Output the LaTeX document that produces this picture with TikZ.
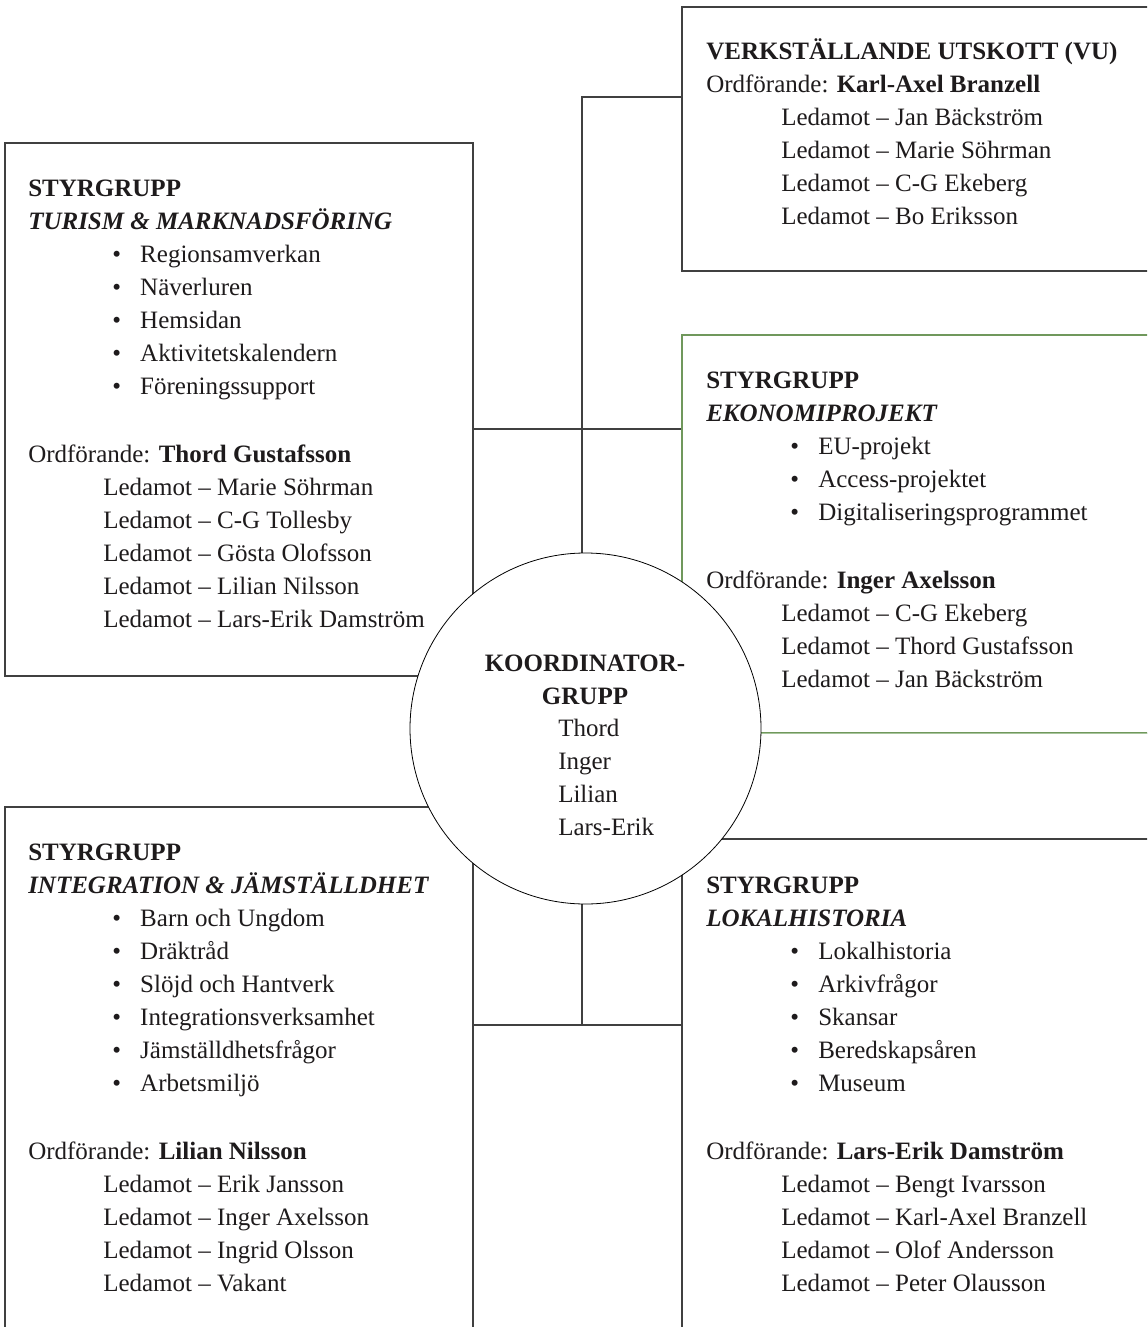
\documentclass[tikz,border=0pt]{standalone}
\usepackage{fontspec}
\setmainfont{Liberation Serif}
\usetikzlibrary{fit}
\definecolor{ecoG}{RGB}{112,152,92}
\definecolor{ecoGl}{RGB}{168,196,156}
\definecolor{ink}{RGB}{30,27,28}
\newcommand\bul[1]{\hspace*{63pt}\makebox[21pt][l]{•}#1}
\newcommand\led[1]{\hspace*{56.25pt}Ledamot – #1}
\newcommand\ordf[1]{Ordförande: \textbf{#1}}
\newcommand\gap{\\[26.25pt]}
\newcommand\blk[1]{\parbox[t]{420pt}{\fontsize{18.75pt}{24.75pt}\selectfont #1}}
\begin{document}
\begin{tikzpicture}[x=0.75pt,y=-0.75pt,
  boxst/.style={draw=black!75, line width=0.8pt, inner sep=0pt},
  conn/.style={draw=black!75, line width=0.8pt},
  txt/.style={inner sep=0pt, anchor=base west, text=ink}]
\useasboundingbox (0,0) rectangle (1147,1327);
\fill[white] (0,0) rectangle (1147,1327);
\clip (0,0) rectangle (1147,1327);
% boxes
\node[boxst, fit={(5,143) (473,676)}] (tl) {};
\node[boxst, fit={(682,7) (1170,271)}] (vu) {};
\node[boxst, draw=ecoG, fit={(682,335) (1170,733)}] (eko) {};
\draw[ecoGl, line width=1.4pt] (eko.south west) -- (eko.south east);
\node[boxst, fit={(682,839) (1170,1350)}] (lok) {};
\node[boxst, fit={(5,807) (473,1350)}] (bl) {};
% texts
\node[txt] (tlt) at (28,196) {\blk{\textbf{STYRGRUPP}\\
  \textbf{\textit{TURISM \& MARKNADSFÖRING}}\\
  \bul{Regionsamverkan}\\
  \bul{Näverluren}\\
  \bul{Hemsidan}\\
  \bul{Aktivitetskalendern}\\
  \bul{Föreningssupport}\gap
  \ordf{Thord Gustafsson}\\
  \led{Marie Söhrman}\\
  \led{C-G Tollesby}\\
  \led{Gösta Olofsson}\\
  \led{Lilian Nilsson}\\
  \led{Lars-Erik Damström}}};
\node[txt] (vut) at (706,60) {\blk{\textbf{VERKSTÄLLANDE UTSKOTT (VU)}\\
  \ordf{Karl-Axel Branzell}\\
  \led{Jan Bäckström}\\
  \led{Marie Söhrman}\\
  \led{C-G Ekeberg}\\
  \led{Bo Eriksson}}};
\node[txt] (ekot) at (706,388) {\blk{\textbf{STYRGRUPP}\\
  \textbf{\textit{EKONOMIPROJEKT}}\\
  \bul{EU-projekt}\\
  \bul{Access-projektet}\\
  \bul{Digitaliseringsprogrammet}\gap
  \ordf{Inger Axelsson}\\
  \led{C-G Ekeberg}\\
  \led{Thord Gustafsson}\\
  \led{Jan Bäckström}}};
\node[txt] (blt) at (28,860) {\blk{\textbf{STYRGRUPP}\\
  \textbf{\textit{INTEGRATION \& JÄMSTÄLLDHET}}\\
  \bul{Barn och Ungdom}\\
  \bul{Dräktråd}\\
  \bul{Slöjd och Hantverk}\\
  \bul{Integrationsverksamhet}\\
  \bul{Jämställdhetsfrågor}\\
  \bul{Arbetsmiljö}\gap
  \ordf{Lilian Nilsson}\\
  \led{Erik Jansson}\\
  \led{Inger Axelsson}\\
  \led{Ingrid Olsson}\\
  \led{Vakant}}};
\node[txt] (lokt) at (706,893) {\blk{\textbf{STYRGRUPP}\\
  \textbf{\textit{LOKALHISTORIA}}\\
  \bul{Lokalhistoria}\\
  \bul{Arkivfrågor}\\
  \bul{Skansar}\\
  \bul{Beredskapsåren}\\
  \bul{Museum}\gap
  \ordf{Lars-Erik Damström}\\
  \led{Bengt Ivarsson}\\
  \led{Karl-Axel Branzell}\\
  \led{Olof Andersson}\\
  \led{Peter Olausson}}};
% connectors
\coordinate (ja) at (582,97);
\coordinate (jb) at (582,429);
\coordinate (jc) at (582,1025);
\coordinate (cc) at (585.5,728.5);
\draw[conn] (vu.west |- ja) -- (ja) -- (ja |- cc);
\draw[conn] (tl.east |- jb) -- (eko.west |- jb);
\draw[conn] (ja |- cc) -- (jc);
\draw[conn] (bl.east |- jc) -- (lok.west |- jc);
% central circle
\node[circle, draw=black, line width=0.6pt, fill=white, minimum size=263.25pt, inner sep=0pt] (ko) at (cc) {};
\node[inner sep=0pt, anchor=base, text=ink] (koh) at (585,671) {\parbox[t]{250pt}{\centering\fontsize{18.75pt}{24.75pt}\selectfont\textbf{KOORDINATOR-}\\\textbf{GRUPP}}};
\node[txt] (kon) at (558,736) {\blk{Thord\\Inger\\Lilian\\Lars-Erik}};
\end{tikzpicture}
\end{document}
